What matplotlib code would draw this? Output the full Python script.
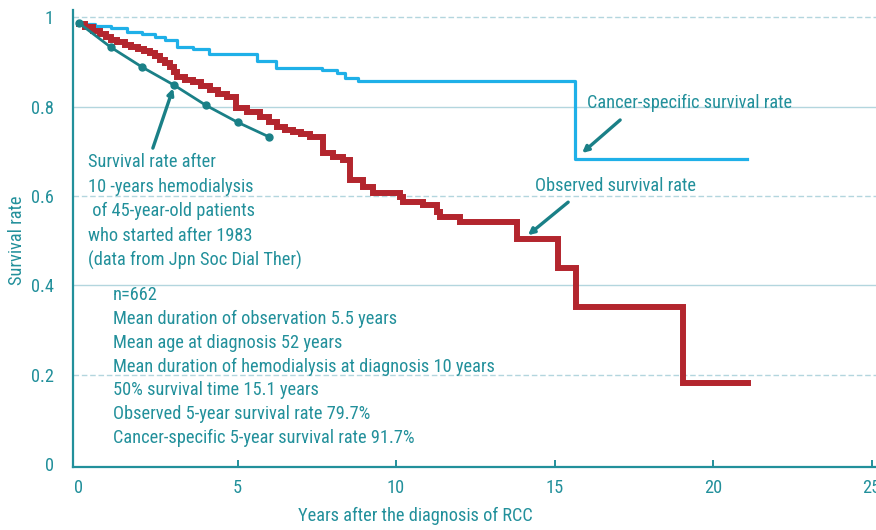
import matplotlib
matplotlib.use("Agg")
import matplotlib.pyplot as plt
from matplotlib import font_manager

# Kaplan-Meier style survival curves after diagnosis of RCC in hemodialysis patients

# observed survival (step times in years, survival)
obs_t = [0, 0.2, 0.45, 0.66, 0.85, 1.0, 1.2, 1.45, 1.65, 1.85, 2.05, 2.24, 2.4, 2.55,
         2.72, 2.87, 3.0, 3.09, 3.35, 3.6, 3.85, 4.13, 4.4, 4.67, 4.95, 5.3,
         5.71, 6.0, 6.25, 6.5, 6.75, 7.0, 7.29, 7.7, 8.0, 8.33, 8.55, 8.96, 9.27,
         10.13, 10.22, 10.85, 11.29, 11.39, 12.02, 13.82, 15.1, 15.68, 19.05, 21.1]
obs_s = [0.985, 0.978, 0.970, 0.962, 0.956, 0.950, 0.944, 0.937, 0.933, 0.928, 0.924,
         0.920, 0.913, 0.905, 0.897, 0.888, 0.877, 0.866, 0.860, 0.855, 0.846, 0.837,
         0.829, 0.821, 0.797, 0.787, 0.776, 0.765, 0.754, 0.748, 0.743, 0.738, 0.732,
         0.696, 0.688, 0.680, 0.635, 0.620, 0.606, 0.597, 0.586, 0.579, 0.564, 0.553,
         0.541, 0.503, 0.438, 0.351, 0.181, 0.181]

# cancer-specific survival
cs_t = [0, 0.5, 1.0, 1.5, 2.0, 2.4, 2.7, 3.1, 3.6, 4.1, 5.6, 6.2, 7.67, 8.14, 8.39,
        8.8, 15.65, 21.07]
cs_s = [0.985, 0.980, 0.975, 0.968, 0.962, 0.955, 0.948, 0.933, 0.928, 0.917, 0.902,
        0.886, 0.881, 0.875, 0.864, 0.857, 0.682, 0.682]

# hemodialysis reference (45-year-old patients, started after 1983)
hd_t = [0, 1, 2, 3, 4, 5, 6]
hd_s = [0.987, 0.933, 0.888, 0.848, 0.803, 0.765, 0.732]

stats_lines = [
    "n=662",
    "Mean duration of observation 5.5 years",
    "Mean age at diagnosis 52 years",
    "Mean duration of hemodialysis at diagnosis 10 years",
    "50% survival time 15.1 years",
    "Observed 5-year survival rate 79.7%",
    "Cancer-specific 5-year survival rate 91.7%",
]
hd_lines = [
    "Survival rate after",
    "10 -years hemodialysis",
    " of 45-year-old patients",
    "who started after 1983",
    "(data from Jpn Soc Dial Ther)",
]

TEAL = "#22909b"
BLUE = "#1fb0e8"
RED = "#b3262e"
DARK_TEAL = "#1a8087"
GRID = "#b3d6de"

names = {f.name for f in font_manager.fontManager.ttflist}
fam = "DejaVu Sans"
for cand in ["Liberation Sans Narrow", "Roboto Condensed", "DejaVu Sans Condensed", "Roboto"]:
    if cand in names:
        fam = cand
        break
plt.rcParams["font.family"] = [fam, "DejaVu Sans"]
FS = 13.2

fig = plt.figure(figsize=(8.76, 5.30), dpi=100)
ax = fig.add_axes([0.0833, 0.1189, 0.9167, 0.862])
ax.set_xlim(-0.19, 25.14)
ax.set_ylim(-0.007, 1.016)

for yv, ls in [(0.2, (0, (4, 2))), (0.4, "-"), (0.6, (0, (4, 2))), (0.8, "-"), (1.0, (0, (4, 2)))]:
    ax.axhline(yv, color=GRID, lw=1.0, ls=ls, zorder=0)

ax.plot(cs_t, cs_s, drawstyle="steps-post", color=BLUE, lw=2.3, zorder=2)
ax.plot(obs_t, obs_s, drawstyle="steps-post", color=RED, lw=4.3, zorder=3,
        solid_joinstyle="miter")
ax.plot(hd_t, hd_s, color=DARK_TEAL, lw=2.0, marker="o", ms=5, zorder=4)

for s in ["top", "right"]:
    ax.spines[s].set_visible(False)
for s in ["left", "bottom"]:
    ax.spines[s].set_color(TEAL)
    ax.spines[s].set_linewidth(1.6)

ax.set_xticks([0, 5, 10, 15, 20, 25])
ax.set_yticks([0, 0.2, 0.4, 0.6, 0.8, 1.0])
ax.set_yticklabels(["0", "0.2", "0.4", "0.6", "0.8", "1"])
ax.tick_params(axis="x", direction="in", length=5, width=1.4, color=TEAL,
               labelcolor=TEAL, labelsize=FS, pad=9)
ax.tick_params(axis="y", length=0, labelcolor=TEAL, labelsize=FS, pad=14)
ax.xaxis.get_major_ticks()[0].tick1line.set_visible(False)

ax.set_xlabel("Years after the diagnosis of RCC", color=TEAL, fontsize=FS)
ax.xaxis.set_label_coords(0.427, -0.088)
ax.set_ylabel("Survival rate", color=TEAL, fontsize=FS)
ax.yaxis.set_label_coords(-0.058, 0.497)

arrow = dict(arrowstyle="-|>", color=DARK_TEAL, lw=2.4, mutation_scale=9,
             shrinkA=0, shrinkB=0)
ax.annotate("", xy=(2.97, 0.841), xytext=(2.33, 0.707), arrowprops=arrow)
ax.annotate("", xy=(15.87, 0.696), xytext=(17.07, 0.770), arrowprops=arrow)
ax.annotate("", xy=(14.16, 0.512), xytext=(15.43, 0.586), arrowprops=arrow)

ax.text(16.03, 0.808, "Cancer-specific survival rate", color=TEAL, fontsize=FS, va="center")
ax.text(14.38, 0.622, "Observed survival rate", color=TEAL, fontsize=FS, va="center")

for i, line in enumerate(hd_lines):
    ax.text(0.28, 0.675 - i * 0.0548, line, color=TEAL, fontsize=FS, va="center")
for i, line in enumerate(stats_lines):
    ax.text(1.07, 0.378 - i * 0.0533, line, color=TEAL, fontsize=FS, va="center")

fig.savefig("out.png", dpi=100)
